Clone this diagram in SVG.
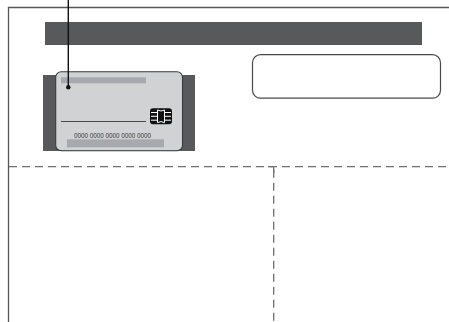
<svg xmlns="http://www.w3.org/2000/svg" width="449" height="322" viewBox="0 0 449 322">
  <style>
    .frame { fill: none; stroke: #555658; stroke-width: 1.3; }
    .dash { fill: none; stroke: #6d6e70; stroke-width: 1.3; stroke-dasharray: 8 5; }
    .dark { fill: #58595b; }
    .light { fill: #a7a9ac; }
    .card { fill: #d1d2d4; stroke: #3a3a3c; stroke-width: 1.1; }
    .box { fill: #ffffff; stroke: #4a4a4c; stroke-width: 1.2; }
    .num { font-family: "Liberation Sans", Arial, sans-serif; font-size: 6.3px; fill: #333335; }
    .leader { fill: none; stroke: #111111; stroke-width: 1.4; }
  </style>

  <!-- page frame -->
  <path class="frame" d="M8.5 322 V7.5 H449"/>

  <!-- header band -->
  <g id="header">
    <rect class="dark" x="45" y="22" width="377" height="23"/>
  </g>

  <!-- payment card -->
  <g id="card">
    <rect class="dark" x="43" y="75" width="152" height="76"/>
    <rect class="card" x="55.7" y="71.7" width="126.8" height="79" rx="5.5"/>
    <rect class="light" x="61" y="77.3" width="85" height="6"/>
    <line x1="61" y1="121.5" x2="146" y2="121.5" stroke="#4a4a4c" stroke-width="1.2"/>
    <!-- chip -->
    <g id="chip">
      <rect x="150" y="108.3" width="22" height="16" rx="3" fill="#111111"/>
      <path d="M151 112.5 H157 M151 116.3 H157 M151 120.2 H157 M165 112.5 H171 M165 116.3 H171 M165 120.2 H171"
            stroke="#ffffff" stroke-width="1" fill="none"/>
      <path d="M157.5 110 Q161 112 164.5 110 V122.6 Q161 120.6 157.5 122.6 Z" fill="none" stroke="#ffffff" stroke-width="1"/>
    </g>
    <rect class="light" x="67" y="139.3" width="97" height="8"/>
    <text class="num" x="74" y="137.5">0000 0000 0000 0000 0000</text>
  </g>

  <!-- blank label box -->
  <g id="label-box">
    <rect class="box" x="252.5" y="54.7" width="188" height="43.5" rx="8"/>
  </g>

  <!-- connectors -->
  <g id="connectors">
    <line class="leader" x1="68.3" y1="0" x2="68.3" y2="87"/>
    <circle cx="68.3" cy="87.3" r="2.2" fill="#111111"/>
    <path class="dash" d="M9 166.7 H449"/>
    <path class="dash" d="M273.7 166.7 V322" stroke-dasharray="7 5.5" stroke-dashoffset="-3"/>
    <path d="M268 166.7 H273.7 V173" fill="none" stroke="#6d6e70" stroke-width="1.3"/>
  </g>
</svg>
